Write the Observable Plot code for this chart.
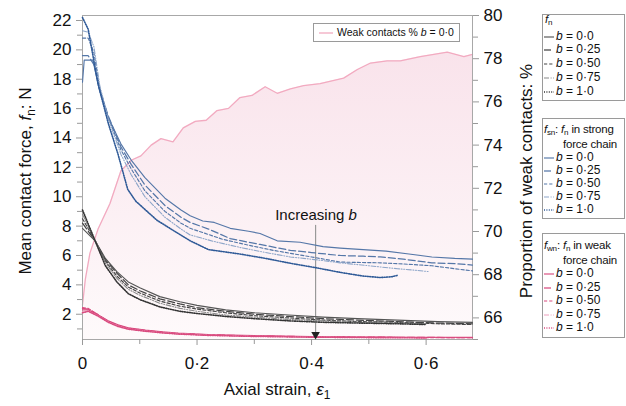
<!DOCTYPE html>
<html><head><meta charset="utf-8">
<script src="https://cdn.jsdelivr.net/npm/d3@7"></script>
<script src="https://cdn.jsdelivr.net/npm/@observablehq/plot@0.6"></script>
<style>
body{margin:0;background:#fff;font-family:"Liberation Sans",Arial,sans-serif;}
#wrap{position:relative;width:626px;height:406px;overflow:hidden;background:#fff}
#wrap > svg{position:absolute;left:0;top:0}
.lab{position:absolute;white-space:nowrap;color:#111;font-size:17px}
.box{position:absolute;border:1px solid #9a9a9a;background:#fff;box-sizing:border-box}
.row{position:absolute;white-space:nowrap;font-size:12px;line-height:14px;height:14px;color:#111}
sub{font-size:0.7em;vertical-align:baseline;position:relative;top:0.3em;line-height:0}
</style></head><body><div id="wrap"></div>
<script>
// ---------- data ----------
const bLabels = ["0·0", "0·25", "0·50", "0·75", "1·0"];

// mean contact force f_n (black)
const fn_b000 = [[0,7.85],[0.022,7.0],[0.04,5.8],[0.06,4.9],[0.08,4.2],[0.1,3.8],[0.135,3.2],[0.17,2.85],[0.2,2.6],[0.25,2.3],[0.3,2.1],[0.36,1.95],[0.42,1.8],[0.48,1.7],[0.55,1.6],[0.62,1.5],[0.681,1.45]];
const fn_b025 = [[0,8.2],[0.022,7.0],[0.04,5.7],[0.06,4.8],[0.08,4.0],[0.1,3.6],[0.135,3.05],[0.17,2.7],[0.2,2.45],[0.25,2.2],[0.3,2.0],[0.36,1.85],[0.42,1.7],[0.48,1.6],[0.55,1.5],[0.62,1.4],[0.681,1.35]];
const fn_b050 = [[0,8.5],[0.022,7.0],[0.04,5.6],[0.06,4.6],[0.08,3.85],[0.1,3.45],[0.135,2.9],[0.17,2.55],[0.2,2.35],[0.25,2.1],[0.3,1.9],[0.36,1.75],[0.42,1.6],[0.48,1.5],[0.55,1.45],[0.62,1.35],[0.681,1.3]];
const fn_b075 = [[0,8.8],[0.022,7.0],[0.04,5.5],[0.06,4.45],[0.08,3.7],[0.1,3.3],[0.135,2.75],[0.17,2.4],[0.2,2.2],[0.25,1.95],[0.3,1.8],[0.36,1.65],[0.42,1.55],[0.48,1.45],[0.55,1.4],[0.6,1.35]];
const fn_b100 = [[0,9.1],[0.022,7.0],[0.04,5.3],[0.06,4.2],[0.08,3.4],[0.1,3.0],[0.135,2.5],[0.17,2.2],[0.2,2.05],[0.25,1.85],[0.3,1.7],[0.36,1.55],[0.42,1.45],[0.48,1.4],[0.55,1.35],[0.6,1.3]];

// f_sn : strong force chain (blue)
const fsn_b000 = [[0,17.8],[0.003,19.3],[0.018,19.3],[0.03,17.2],[0.045,15.4],[0.067,13.6],[0.085,12.5],[0.109,11.3],[0.144,9.9],[0.172,9.1],[0.188,8.7],[0.21,8.35],[0.23,8.25],[0.258,7.85],[0.29,7.65],[0.31,7.5],[0.34,7.0],[0.38,6.9],[0.42,6.6],[0.45,6.5],[0.49,6.4],[0.53,6.3],[0.57,6.1],[0.61,5.9],[0.65,5.8],[0.681,5.75]];
const fsn_b025 = [[0,19.6],[0.01,19.6],[0.02,19.0],[0.03,17.3],[0.045,15.5],[0.067,13.4],[0.085,12.2],[0.109,10.8],[0.144,9.4],[0.172,8.6],[0.188,8.25],[0.22,7.8],[0.258,7.15],[0.31,6.75],[0.363,6.35],[0.4,6.2],[0.45,6.0],[0.49,5.95],[0.52,5.9],[0.56,5.75],[0.61,5.5],[0.65,5.45],[0.681,5.35]];
const fsn_b050 = [[0,20.8],[0.01,20.8],[0.02,19.8],[0.03,17.4],[0.045,15.4],[0.067,13.2],[0.085,11.9],[0.109,10.4],[0.144,9.0],[0.172,8.2],[0.188,7.85],[0.245,7.1],[0.29,6.7],[0.333,6.35],[0.4,5.9],[0.45,5.55],[0.52,5.5],[0.57,5.4],[0.61,5.3],[0.65,5.1],[0.681,4.95]];
const fsn_b075 = [[0,21.3],[0.01,21.2],[0.02,20.2],[0.03,17.6],[0.045,15.3],[0.067,12.9],[0.085,11.5],[0.109,10.0],[0.144,8.6],[0.172,7.8],[0.188,7.4],[0.23,6.95],[0.275,6.55],[0.32,6.2],[0.363,5.9],[0.41,5.7],[0.45,5.5],[0.5,5.3],[0.55,5.1],[0.58,5.0],[0.605,4.9]];
const fsn_b100 = [[0,22.2],[0.01,21.4],[0.027,17.7],[0.045,15.0],[0.062,12.9],[0.079,10.5],[0.093,9.7],[0.11,9.1],[0.13,8.4],[0.167,7.5],[0.188,7.0],[0.22,6.4],[0.275,6.1],[0.32,5.8],[0.363,5.47],[0.41,5.15],[0.45,4.85],[0.49,4.6],[0.52,4.5],[0.54,4.55],[0.55,4.65]];

// f_wn : weak force chain (pink)
const fwn_b000 = [[0,2.3],[0.01,2.3],[0.027,1.95],[0.045,1.55],[0.062,1.28],[0.08,1.08],[0.11,0.92],[0.14,0.8],[0.167,0.72],[0.22,0.62],[0.3,0.54],[0.4,0.48],[0.5,0.45],[0.6,0.43],[0.681,0.42]];
const fwn_b025 = [[0,2.4],[0.01,2.35],[0.027,1.98],[0.045,1.52],[0.062,1.25],[0.08,1.05],[0.11,0.9],[0.14,0.78],[0.167,0.7],[0.22,0.6],[0.3,0.52],[0.4,0.47],[0.5,0.44],[0.6,0.42],[0.681,0.41]];
const fwn_b050 = [[0,2.45],[0.01,2.4],[0.027,1.96],[0.045,1.5],[0.062,1.22],[0.08,1.03],[0.11,0.88],[0.14,0.76],[0.167,0.68],[0.22,0.58],[0.3,0.51],[0.4,0.46],[0.5,0.43],[0.6,0.41],[0.681,0.4]];
const fwn_b075 = [[0,2.2],[0.01,2.2],[0.027,1.9],[0.045,1.48],[0.062,1.2],[0.08,1.0],[0.11,0.86],[0.14,0.75],[0.167,0.67],[0.22,0.57],[0.3,0.5],[0.4,0.45],[0.5,0.42],[0.6,0.4]];
const fwn_b100 = [[0,2.1],[0.01,2.2],[0.027,1.88],[0.045,1.45],[0.062,1.17],[0.08,0.98],[0.11,0.84],[0.14,0.73],[0.167,0.65],[0.22,0.56],[0.3,0.49],[0.4,0.44],[0.5,0.41],[0.6,0.39]];

// weak contacts % (right axis), b = 0.0
const weakPct = [[0,66.6],[0.005,67.8],[0.013,69.0],[0.027,70.1],[0.048,71.3],[0.067,72.8],[0.085,73.3],[0.102,73.5],[0.12,74.0],[0.137,74.3],[0.158,74.15],[0.176,74.8],[0.197,75.1],[0.216,75.15],[0.235,75.6],[0.255,75.7],[0.275,76.2],[0.296,76.3],[0.319,76.7],[0.34,76.4],[0.363,76.6],[0.386,76.75],[0.415,76.85],[0.456,77.1],[0.48,77.5],[0.503,77.8],[0.532,77.9],[0.555,77.9],[0.59,78.1],[0.637,78.3],[0.666,78.1],[0.681,78.2]];

const xMajor = [0, 0.2, 0.4, 0.6];
const xMinor = [0.1, 0.3, 0.5];
const yMajor = [2,4,6,8,10,12,14,16,18,20,22];
const yMinor = [1,3,5,7,9,11,13,15,17,19,21];
const rMajor = [66,68,70,72,74,76,78,80];
const rMinor = [65,67,69,71,73,75,77,79];

// ---------- scales ----------
const yLo = 0.28, yHi = 22.34, rLo = 65, rHi = 80;
const toL = v => yLo + (v - rLo) / (rHi - rLo) * (yHi - yLo);
const fromL = v => rLo + (v - yLo) / (yHi - yLo) * (rHi - rLo);
const fmtX = d => d === 0 ? "0" : d.toFixed(1).replace(".", "·");

const dashes = ["none", "7,3", "3.2,2", "5,1.6,1,1.6,1,1.6", "1,1.4"];
const widths = [1.15, 1.25, 1.15, 1.1, 1.6];
const groups = [
  {series:[fsn_b000,fsn_b025,fsn_b050,fsn_b075,fsn_b100], colors:["#5577a8","#5577a8","#5577a8","#8ea6c9","#2f5a97"]},
  {series:[fn_b000,fn_b025,fn_b050,fn_b075,fn_b100], colors:["#555","#444","#444","#8a8a8a","#333"]},
  {series:[fwn_b000,fwn_b025,fwn_b050,fwn_b075,fwn_b100], colors:["#d94b7f","#d94b7f","#d94b7f","#eda0bd","#d94b7f"]}
];

const lineMarks = [];
for (const g of groups) g.series.forEach((s, i) => {
  lineMarks.push(Plot.line(s, {x: d => d[0], y: d => d[1], stroke: g.colors[i], strokeWidth: widths[i], strokeDasharray: dashes[i] === "none" ? undefined : dashes[i]}));
});

const defs = () => {
  const d = d3.create("svg:defs");
  const gr = d.append("linearGradient").attr("id", "pinkGrad").attr("x1", 0).attr("y1", 0).attr("x2", 0).attr("y2", 1);
  gr.append("stop").attr("offset", "0%").attr("stop-color", "#f9e3eb");
  gr.append("stop").attr("offset", "100%").attr("stop-color", "#fefafb");
  return d.node();
};

const arrowData = [{x: 0.407, y1: 8.05, y2: 0.62}];

const chart = Plot.plot({
  width: 626, height: 406,
  marginLeft: 82, marginRight: 154, marginTop: 15, marginBottom: 67,
  x: {domain: [0, 0.681]},
  y: {domain: [yLo, yHi]},
  style: {fontFamily: "'Liberation Sans', Arial, sans-serif", fontSize: "17px", color: "#111", background: "transparent"},
  marks: [
    defs,
    Plot.areaY(weakPct, {x: d => d[0], y1: yLo, y2: d => toL(d[1]), fill: "url(#pinkGrad)"}),
    Plot.line(weakPct, {x: d => d[0], y: d => toL(d[1]), stroke: "#f2aac0", strokeWidth: 1.3}),
    Plot.frame({stroke: "#a8a8a8"}),
    Plot.axisX(xMajor, {tickSize: 6, tickPadding: 11, stroke: "#999", fill: "#111", tickFormat: fmtX, label: null, fontSize: 17}),
    Plot.axisX(xMinor, {tickSize: 5, stroke: "#999", tickFormat: () => "", label: null}),
    Plot.axisY(yMajor, {tickSize: 6, tickPadding: 5, stroke: "#999", fill: "#111", label: null, fontSize: 17}),
    Plot.axisY(yMinor, {tickSize: 5, stroke: "#999", tickFormat: () => "", label: null}),
    Plot.axisY(rMajor.map(toL), {anchor: "right", tickSize: 6, tickPadding: 5, stroke: "#999", fill: "#111", tickFormat: d => String(Math.round(fromL(d))), label: null, fontSize: 17}),
    Plot.axisY(rMinor.map(toL), {anchor: "right", tickSize: 5, stroke: "#999", tickFormat: () => "", label: null}),
    Plot.ruleX(arrowData, {x: "x", y1: "y1", y2: "y2", stroke: "#999", strokeWidth: 1.2}),
    ...lineMarks,
    Plot.dot(arrowData, {x: "x", y: "y2", symbol: "triangle", rotate: 180, r: 3.2, fill: "#222", stroke: "none"})
  ]
});

const wrap = document.getElementById("wrap");
wrap.appendChild(chart);

function addDiv(html, cls, css) {
  const el = document.createElement("div");
  el.className = cls; el.innerHTML = html;
  Object.assign(el.style, css);
  wrap.appendChild(el);
  return el;
}

// axis titles
addDiv("Mean contact force, <i>f</i><sub>n</sub>: N", "lab", {left: "26px", top: "181px", transform: "translate(-50%,-50%) rotate(-90deg)"});
addDiv("Proportion of weak contacts: %", "lab", {left: "527px", top: "181px", transform: "translate(-50%,-50%) rotate(-90deg)"});
addDiv("Axial strain, <i>ε</i><sub>1</sub>", "lab", {left: "277px", top: "390px", transform: "translate(-50%,-50%)"});
addDiv("Increasing <i>b</i>", "lab", {left: "316px", top: "214px", transform: "translate(-50%,-50%)", fontSize: "15px"});

// in-plot legend
addDiv("", "box", {left: "313px", top: "23px", width: "147px", height: "19px"});
addDiv(`<svg width="14" height="4" style="vertical-align:middle;margin-right:4px"><line x1="0" x2="14" y1="2" y2="2" stroke="#f2aac0" stroke-width="1.3"/></svg>Weak contacts % <i>b</i> = 0·0`, "row",
  {left: "319px", top: "25px", fontSize: "10.5px"});

// side legends
function sample(color, i) {
  const da = dashes[i] === "none" ? "" : `stroke-dasharray="${dashes[i]}"`;
  return `<svg width="10" height="6" style="vertical-align:middle;margin-right:2px"><line x1="0" x2="10" y1="3" y2="3" stroke="${color}" stroke-width="${widths[i]}" ${da}/></svg>`;
}
function legend(top, bottom, titleRows, colors, rowYs) {
  addDiv("", "box", {left: "542px", top: top + "px", width: "83px", height: (bottom - top) + "px"});
  titleRows.forEach(t => addDiv(t.html, "row", {left: t.x + "px", top: (t.y - 7) + "px", fontSize: "11.5px", letterSpacing: "-0.2px"}));
  rowYs.forEach((y, i) => addDiv(sample(colors[i], i) + `<i>b</i> = ${bLabels[i]}`, "row", {left: "544px", top: (y - 7) + "px"}));
}
legend(14, 101, [{html: "<i>f</i><sub>n</sub>", x: 545, y: 19}], groups[1].colors, [36, 49, 63, 77, 91]);
legend(118, 219, [{html: "<i>f</i><sub>sn</sub>: <i>f</i><sub>n</sub> in strong", x: 544, y: 129}, {html: "force chain", x: 563, y: 144}], groups[0].colors, [157, 170, 183, 196, 209]);
legend(233, 338, [{html: "<i>f</i><sub>wn</sub>: <i>f</i><sub>n</sub> in weak", x: 544, y: 245}, {html: "force chain", x: 563, y: 260}], groups[2].colors, [273, 287, 300, 314, 327]);
</script></body></html>
